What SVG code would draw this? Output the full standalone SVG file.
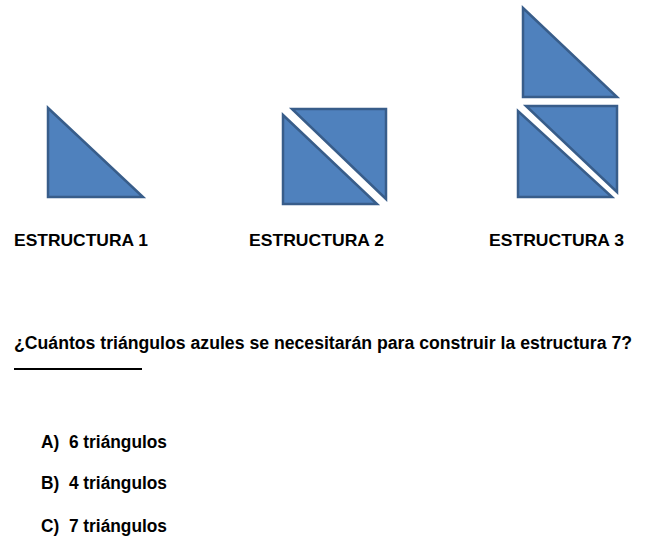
<svg xmlns="http://www.w3.org/2000/svg" width="653" height="555" viewBox="0 0 653 555">
<style>
.tri{fill:#4f81bd;stroke:#385d8a;stroke-width:2.5;stroke-linejoin:miter}
.t{font-family:"Liberation Sans",Arial,sans-serif;font-weight:bold;fill:#000}
</style>
<rect width="653" height="555" fill="#fff"/>
<g id="estructura1">
<polygon class="tri" points="48,108 48,197 143,197"/>
<text class="t" x="14" y="246" font-size="16.5" textLength="134" lengthAdjust="spacingAndGlyphs">ESTRUCTURA 1</text>
</g>
<g id="estructura2">
<polygon class="tri" points="283,115 283,204 377,204"/>
<polygon class="tri" points="292,109 386,109 386,199"/>
<text class="t" x="249" y="246" font-size="16.5" textLength="135" lengthAdjust="spacingAndGlyphs">ESTRUCTURA 2</text>
</g>
<g id="estructura3">
<polygon class="tri" points="523,8 523,97 617,97"/>
<polygon class="tri" points="526,106 617,106 617,192"/>
<polygon class="tri" points="518,111 518,197 612,197"/>
<text class="t" x="489" y="246" font-size="16.5" textLength="135" lengthAdjust="spacingAndGlyphs">ESTRUCTURA 3</text>
</g>
<g id="pregunta">
<text class="t" x="14" y="349" font-size="17.5" textLength="618" lengthAdjust="spacingAndGlyphs">¿Cuántos triángulos azules se necesitarán para construir la estructura 7?</text>
<line x1="14" y1="369" x2="142" y2="369" stroke="#000" stroke-width="2"/>
</g>
<g id="opciones">
<text class="t" x="41" y="448" font-size="18" xml:space="preserve" textLength="126" lengthAdjust="spacingAndGlyphs">A)  6 triángulos</text>
<text class="t" x="41" y="489" font-size="18" xml:space="preserve" textLength="126" lengthAdjust="spacingAndGlyphs">B)  4 triángulos</text>
<text class="t" x="41" y="532" font-size="18" xml:space="preserve" textLength="126" lengthAdjust="spacingAndGlyphs">C)  7 triángulos</text>
</g>
</svg>
